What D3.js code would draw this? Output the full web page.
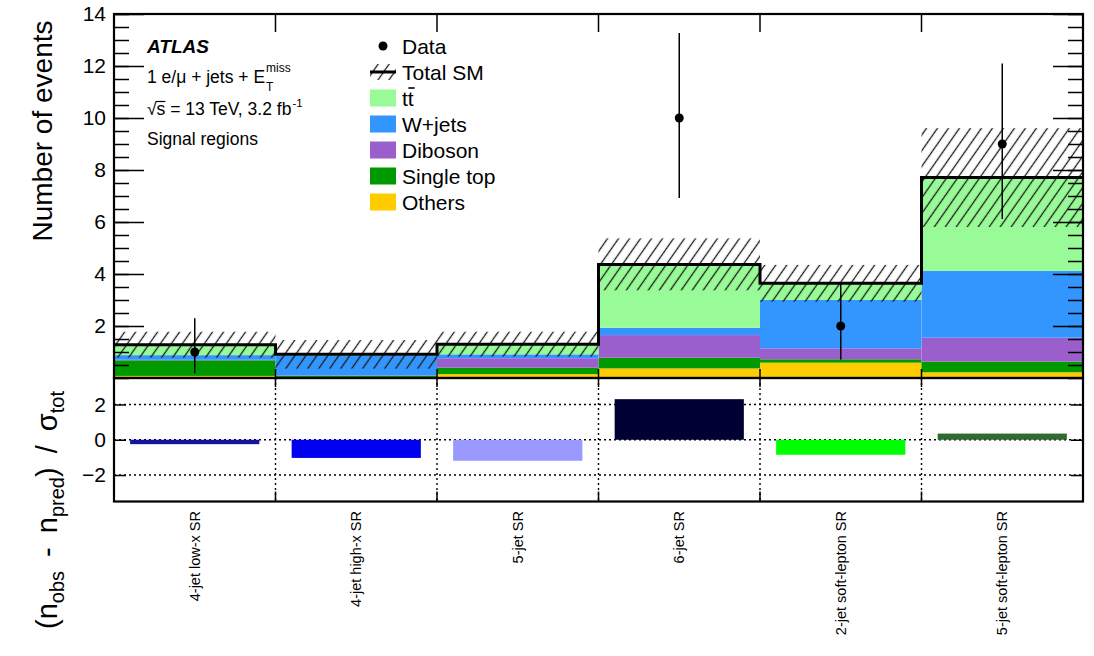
<!DOCTYPE html>
<html>
<head>
<meta charset="utf-8">
<script src="https://cdn.jsdelivr.net/npm/d3@7"></script>
<style>
  body { margin: 0; background: #fff; }
  svg { display: block; }
  text { font-family: "Liberation Sans", Arial, Helvetica, sans-serif; fill: #000; }
</style>
</head>
<body>
<svg id="chart" width="1094" height="656"></svg>
<script>
// Signal-region yields
const regions = ["4-jet low-x SR", "4-jet high-x SR", "5-jet SR", "6-jet SR", "2-jet soft-lepton SR", "5-jet soft-lepton SR"];
const others    = [0.08, 0.04, 0.15, 0.37, 0.59, 0.22];
const singleTop = [0.60, 0.05, 0.25, 0.41, 0.13, 0.41];
const diboson   = [0.02, 0.01, 0.36, 0.87, 0.42, 0.92];
const wjets     = [0.18, 0.77, 0.15, 0.28, 1.86, 2.57];
const ttbar     = [0.40, 0.04, 0.39, 2.44, 0.64, 3.59];
const totalUnc  = [0.50, 0.55, 0.48, 1.00, 0.71, 1.90];
const dataObs     = [1, 0, 0, 10, 2, 9];
const dataErrLow  = [0.82, 0, 0, 3.08, 1.29, 2.88];
const dataErrHigh = [1.30, 0, 0, 3.27, 1.62, 3.10];
const significance = [-0.25, -1.03, -1.19, 2.30, -0.85, 0.35];
const significanceColors = ["#14149a", "#0000ee", "#9999ff", "#000033", "#00ff00", "#2f6b2f"];
const yTicksMain = [2, 4, 6, 8, 10, 12, 14];
const yTicksRatio = [-2, 0, 2];

const processKeys = ["others", "singleTop", "diboson", "wjets", "ttbar"];
const processColors = { others: "#ffcc00", singleTop: "#009900", diboson: "#9a5fcc", wjets: "#3396ff", ttbar: "#98fb98" };
const legendRows = [
  { key: "ttbar", label: "tt" },
  { key: "wjets", label: "W+jets" },
  { key: "diboson", label: "Diboson" },
  { key: "singleTop", label: "Single top" },
  { key: "others", label: "Others" }
];

const table = regions.map((r, i) => ({
  region: r, others: others[i], singleTop: singleTop[i], diboson: diboson[i], wjets: wjets[i], ttbar: ttbar[i],
  total: others[i] + singleTop[i] + diboson[i] + wjets[i] + ttbar[i],
  unc: totalUnc[i], obs: dataObs[i], lo: dataErrLow[i], hi: dataErrHigh[i], sig: significance[i], sigColor: significanceColors[i]
}));

const svg = d3.select("#chart");
const L = 114, R = 1083, T = 14, MB = 378, RB = 501.5;

const x = d3.scaleBand().domain(regions).range([L, R]).padding(0);
const y = d3.scaleLinear().domain([0, 14]).range([MB, T]);
const yr = d3.scaleLinear().domain([-3.5, 3.5]).range([RB, MB]);

const defs = svg.append("defs");
defs.append("pattern").attr("id", "hatch").attr("patternUnits", "userSpaceOnUse")
  .attr("width", 9).attr("height", 9).attr("patternTransform", "rotate(35)")
  .append("line").attr("x1", 4.5).attr("y1", -1).attr("x2", 4.5).attr("y2", 10)
  .attr("stroke", "#1a1a1a").attr("stroke-width", 1.3);
defs.append("clipPath").attr("id", "mainClip").append("rect")
  .attr("x", L).attr("y", T).attr("width", R - L).attr("height", MB - T);

// Stacked backgrounds
const series = d3.stack().keys(processKeys)(table);
const plot = svg.append("g").attr("clip-path", "url(#mainClip)");
plot.selectAll("g.layer").data(series).join("g").attr("class", "layer")
  .attr("fill", d => processColors[d.key])
  .selectAll("rect").data(d => d).join("rect")
  .attr("x", d => x(d.data.region)).attr("width", x.bandwidth())
  .attr("y", d => y(d[1])).attr("height", d => y(d[0]) - y(d[1]));

// Total uncertainty band
plot.selectAll("rect.unc").data(table).join("rect").attr("class", "unc")
  .attr("x", d => x(d.region)).attr("width", x.bandwidth())
  .attr("y", d => y(d.total + d.unc)).attr("height", d => y(d.total - d.unc) - y(d.total + d.unc))
  .attr("fill", "url(#hatch)");

// Total SM outline
const stepPts = table.map(d => [x(d.region), y(d.total)]);
stepPts.push([R, y(table[table.length - 1].total)]);
plot.append("path").attr("d", d3.line().curve(d3.curveStepAfter)(stepPts))
  .attr("fill", "none").attr("stroke", "#000").attr("stroke-width", 3);

// Data points
const dataPts = table.filter(d => d.obs > 0);
const cx = d => x(d.region) + x.bandwidth() / 2;
svg.selectAll("line.err").data(dataPts).join("line").attr("class", "err")
  .attr("x1", cx).attr("x2", cx).attr("y1", d => y(d.obs + d.hi)).attr("y2", d => y(d.obs - d.lo))
  .attr("stroke", "#000").attr("stroke-width", 1.5);
svg.selectAll("circle.dat").data(dataPts).join("circle").attr("class", "dat")
  .attr("cx", cx).attr("cy", d => y(d.obs)).attr("r", 4.5).attr("fill", "#000");

// Main panel axes
function styleAxis(g) { g.select(".domain").remove(); g.selectAll(".tick line").attr("stroke", "#000").attr("stroke-width", 1.5); }
const minorTicks = d3.range(0, 14.01, 0.5);
svg.append("g").attr("transform", `translate(${L},0)`)
  .call(d3.axisLeft(y).tickValues(minorTicks).tickSize(-15).tickFormat("")).call(styleAxis);
svg.append("g").attr("transform", `translate(${L},0)`)
  .call(d3.axisLeft(y).tickValues(yTicksMain).tickSize(-30).tickPadding(8).tickFormat(d3.format("d")))
  .call(styleAxis).call(g => g.selectAll("text").attr("font-size", 21).attr("font-family", "Liberation Sans, Arial, sans-serif"));
svg.append("g").attr("transform", `translate(${R},0)`)
  .call(d3.axisRight(y).tickValues(minorTicks).tickSize(-15).tickFormat("")).call(styleAxis);
svg.append("g").attr("transform", `translate(${R},0)`)
  .call(d3.axisRight(y).tickValues(yTicksMain).tickSize(-30).tickFormat("")).call(styleAxis);
const edges = regions.slice(1).map(r => x(r));
svg.selectAll("line.topTick").data(edges).join("line").attr("class", "topTick")
  .attr("x1", d => d).attr("x2", d => d).attr("y1", T).attr("y2", T + 18).attr("stroke", "#000").attr("stroke-width", 1.5);
svg.selectAll("line.midTick").data(edges).join("line").attr("class", "midTick")
  .attr("x1", d => d).attr("x2", d => d).attr("y1", MB - 9).attr("y2", MB + 9).attr("stroke", "#000").attr("stroke-width", 1.5);
svg.append("rect").attr("x", L).attr("y", T).attr("width", R - L).attr("height", MB - T)
  .attr("fill", "none").attr("stroke", "#000").attr("stroke-width", 2.2);

// Ratio panel
const ratio = svg.append("g");
ratio.selectAll("line.hgrid").data(yTicksRatio).join("line").attr("class", "hgrid")
  .attr("x1", L).attr("x2", R).attr("y1", d => yr(d)).attr("y2", d => yr(d))
  .attr("stroke", "#000").attr("stroke-width", 1.4).attr("stroke-dasharray", "2,3");
ratio.selectAll("line.vgrid").data(edges).join("line").attr("class", "vgrid")
  .attr("x1", d => d).attr("x2", d => d).attr("y1", MB).attr("y2", RB)
  .attr("stroke", "#000").attr("stroke-width", 1.4).attr("stroke-dasharray", "2,3");
ratio.selectAll("line.botTick").data(edges).join("line").attr("class", "botTick")
  .attr("x1", d => d).attr("x2", d => d).attr("y1", RB - 10).attr("y2", RB).attr("stroke", "#000").attr("stroke-width", 1.5);
ratio.selectAll("rect.sig").data(table).join("rect").attr("class", "sig")
  .attr("x", d => x(d.region) + 0.1 * x.bandwidth()).attr("width", 0.8 * x.bandwidth())
  .attr("y", d => yr(Math.max(0, d.sig))).attr("height", d => Math.abs(yr(d.sig) - yr(0)))
  .attr("fill", d => d.sigColor);
svg.append("g").attr("transform", `translate(${L},0)`)
  .call(d3.axisLeft(yr).tickValues(yTicksRatio).tickSize(-12).tickPadding(8).tickFormat(d => d < 0 ? "\u2212" + Math.abs(d) : d))
  .call(styleAxis).call(g => g.selectAll("text").attr("font-size", 21).attr("font-family", "Liberation Sans, Arial, sans-serif"));
svg.append("g").attr("transform", `translate(${R},0)`)
  .call(d3.axisRight(yr).tickValues(yTicksRatio).tickSize(-12).tickFormat("")).call(styleAxis);
svg.append("rect").attr("x", L).attr("y", MB).attr("width", R - L).attr("height", RB - MB)
  .attr("fill", "none").attr("stroke", "#000").attr("stroke-width", 2.2);

// Region labels
svg.selectAll("text.region").data(regions).join("text").attr("class", "region")
  .attr("transform", d => `translate(${x(d) + x.bandwidth() / 2 + 5},511) rotate(-90)`)
  .attr("text-anchor", "end").attr("font-size", 14.5).attr("fill", "#111").text(d => d);

// Axis titles
svg.append("text").attr("transform", "translate(52,131) rotate(-90)").attr("text-anchor", "middle")
  .attr("font-size", 28).text("Number of events");
const rt = svg.append("text").attr("transform", "translate(57,510) rotate(-90)").attr("text-anchor", "middle")
  .attr("font-size", 29).attr("word-spacing", 6);
rt.append("tspan").text("(n");
rt.append("tspan").attr("font-size", 20).attr("dy", 7).text("obs");
rt.append("tspan").attr("dy", -7).text(" - n");
rt.append("tspan").attr("font-size", 20).attr("dy", 7).text("pred");
rt.append("tspan").attr("dy", -7).text(") / \u03c3");
rt.append("tspan").attr("font-size", 20).attr("dy", 7).text("tot");

// Annotation block
svg.append("text").attr("x", 147).attr("y", 53).attr("font-size", 19).attr("font-weight", "bold").attr("font-style", "italic").text("ATLAS");
const l1 = svg.append("text").attr("x", 147).attr("y", 83).attr("font-size", 17.5).text("1 e/\u03bc + jets + E");
const l1w = l1.node().getComputedTextLength();
svg.append("text").attr("x", 147 + l1w + 1).attr("y", 72).attr("font-size", 12).text("miss");
svg.append("text").attr("x", 147 + l1w + 1).attr("y", 91).attr("font-size", 12).text("T");
const l2 = svg.append("text").attr("x", 147).attr("y", 115).attr("font-size", 17.5).text("\u221as = 13 TeV, 3.2 fb");
const l2w = l2.node().getComputedTextLength();
const sStart = l2.node().getStartPositionOfChar(1).x, sW = l2.node().getSubStringLength(1, 1);
svg.append("line").attr("x1", sStart - 0.5).attr("x2", sStart + sW).attr("y1", 101.5).attr("y2", 101.5)
  .attr("stroke", "#000").attr("stroke-width", 1.2);
svg.append("text").attr("x", 147 + l2w + 1).attr("y", 107).attr("font-size", 11.5).text("-1");
svg.append("text").attr("x", 147).attr("y", 145).attr("font-size", 17.5).text("Signal regions");

// Legend
const lgX = 370, lgText = 402, lgY0 = 46, lgStep = 26;
svg.append("circle").attr("cx", lgX + 13).attr("cy", lgY0).attr("r", 4.5).attr("fill", "#000");
svg.append("text").attr("x", lgText).attr("y", lgY0 + 7.5).attr("font-size", 21).text("Data");
svg.append("rect").attr("x", lgX).attr("y", lgY0 + lgStep - 8).attr("width", 26).attr("height", 16).attr("fill", "url(#hatch)");
svg.append("line").attr("x1", lgX).attr("x2", lgX + 26).attr("y1", lgY0 + lgStep).attr("y2", lgY0 + lgStep).attr("stroke", "#000").attr("stroke-width", 3);
svg.append("text").attr("x", lgText).attr("y", lgY0 + lgStep + 7.5).attr("font-size", 21).text("Total SM");
legendRows.forEach((row, i) => {
  const cy = lgY0 + lgStep * (i + 2);
  svg.append("rect").attr("x", lgX).attr("y", cy - 8.5).attr("width", 26).attr("height", 17).attr("fill", processColors[row.key]);
  const t = svg.append("text").attr("x", lgText).attr("y", cy + 7.5).attr("font-size", 21).text(row.label);
  if (row.key === "ttbar") {
    const n = t.node();
    const sx = n.getStartPositionOfChar(1).x, w = n.getSubStringLength(1, 1);
    svg.append("line").attr("x1", sx + 0.5).attr("x2", sx + w + 1).attr("y1", cy - 10).attr("y2", cy - 10)
      .attr("stroke", "#000").attr("stroke-width", 1.6);
  }
});
</script>
</body>
</html>
